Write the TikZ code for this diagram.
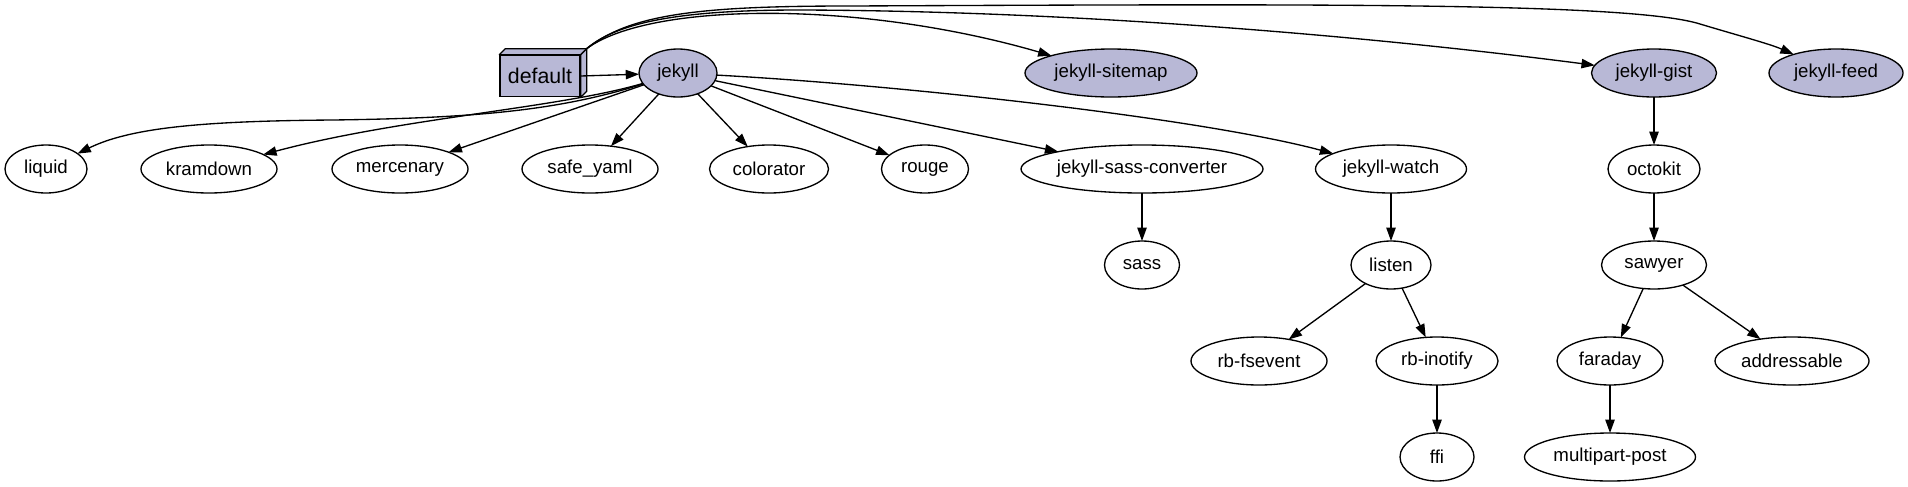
\documentclass[tikz,border=0pt]{standalone}
\usepackage{fontspec}
\setmainfont{Liberation Sans}
\usetikzlibrary{arrows.meta, positioning, shapes.geometric}
\definecolor{gemfill}{RGB}{184,184,214}

\begin{document}
\begin{tikzpicture}[
x=0.75pt, y=-0.75pt,
node distance=36pt,
gem/.style={ellipse, draw, line width=1pt, minimum height=36pt, inner sep=0pt, outer sep=0pt, font=\fontsize{14}{16}\selectfont},
direct/.style={gem, fill=gemfill},
bundle/.style={rectangle, draw, line width=1pt, fill=gemfill, minimum width=60pt, minimum height=31pt, font=\fontsize{16}{18}\selectfont},
arrow/.style={-{Triangle[length=10pt, width=7pt]}, line width=1pt}
]
\useasboundingbox (0,0) rectangle (1908,486);

% Gemfile and its direct gems
\node[bundle] (default) at (540,76) {default};
\node[direct, minimum width=58.5pt] (jekyll) at (678,73) {jekyll};
\node[direct, minimum width=129pt] (sitemap) at (1111,73) {jekyll-sitemap};
\node[direct, minimum width=93.75pt] (gist) at (1654,73) {jekyll-gist};
\node[direct, minimum width=100.5pt] (feed) at (1836,73) {jekyll-feed};

% second level
\node[gem, minimum width=61.5pt] (liquid) at (46,169) {liquid};
\node[gem, minimum width=102pt] (kramdown) at (209,169) {kramdown};
\node[gem, minimum width=102pt] (mercenary) at (400,169) {mercenary};
\node[gem, minimum width=102pt] (safeyaml) at (590,169) {safe\_yaml};
\node[gem, minimum width=89.25pt] (colorator) at (769,169) {colorator};
\node[gem, minimum width=65.25pt] (rouge) at (925,169) {rouge};
\node[gem, minimum width=181.5pt] (sassconv) at (1142,169) {jekyll-sass-converter};
\node[gem, minimum width=113.25pt] (watch) at (1391,169) {jekyll-watch};
\node[gem, minimum width=69pt, below=of gist] (octokit) {octokit};

% deeper levels
\node[gem, minimum width=56.25pt, below=of sassconv] (sass) {sass};
\node[gem, minimum width=60pt, below=of watch] (listen) {listen};
\node[gem, minimum width=78.75pt, below=of octokit] (sawyer) {sawyer};
\node[gem, minimum width=102pt] (fsevent) at (1259,361) {rb-fsevent};
\node[gem, minimum width=91.5pt] (inotify) at (1437,361) {rb-inotify};
\node[gem, minimum width=79.5pt] (faraday) at (1610,361) {faraday};
\node[gem, minimum width=115.5pt] (addressable) at (1792,361) {addressable};
\node[gem, minimum width=55.5pt, below=of inotify] (ffi) {ffi};
\node[gem, minimum width=128.25pt, below=of faraday] (multipart) {multipart-post};

% 3d faces of the default box
\path (default.north west) ++(6,-6) coordinate (dnw)
      (default.north east) ++(6,-6) coordinate (dne)
      (default.south east) ++(6,-6) coordinate (dse);
\filldraw[fill=gemfill, line width=1pt, line join=round] (default.north west) -- (dnw) -- (dne) -- (dse) -- (default.south east) -- (default.north east) -- cycle;
\draw[line width=1pt] (default.north east) -- (dne);

\draw[arrow] (default.east) -- (jekyll);
\draw[arrow] (dne) .. controls (650,2) and (860,0) .. (sitemap);
\draw[arrow] (dne) .. controls (620,20) and (690,10) .. (800,10) .. controls (1100,11) and (1400,40) .. (gist);
\draw[arrow] (dne) .. controls (630,14) and (700,6) .. (850,6) .. controls (1300,4) and (1630,2) .. (1700,24) .. controls (1740,36) and (1770,44) .. (feed);

\draw[arrow] (jekyll) .. controls (560,110) and (480,118) .. (333,120) .. controls (200,121) and (130,128) .. (liquid);
\draw[arrow] (jekyll) .. controls (560,108) and (400,118) .. (kramdown);
\draw[arrow] (jekyll) -- (mercenary);
\draw[arrow] (jekyll) -- (safeyaml);
\draw[arrow] (jekyll) -- (colorator);
\draw[arrow] (jekyll) -- (rouge);
\draw[arrow] (jekyll) -- (sassconv);
\draw[arrow] (jekyll) .. controls (900,85) and (1200,118) .. (watch);

\draw[arrow] (gist) -- (octokit);
\draw[arrow] (octokit) -- (sawyer);
\draw[arrow] (sawyer) -- (faraday);
\draw[arrow] (sawyer) -- (addressable);
\draw[arrow] (faraday) -- (multipart);
\draw[arrow] (sassconv) -- (sass);
\draw[arrow] (watch) -- (listen);
\draw[arrow] (listen) -- (fsevent);
\draw[arrow] (listen) -- (inotify);
\draw[arrow] (inotify) -- (ffi);

\end{tikzpicture}
\end{document}
